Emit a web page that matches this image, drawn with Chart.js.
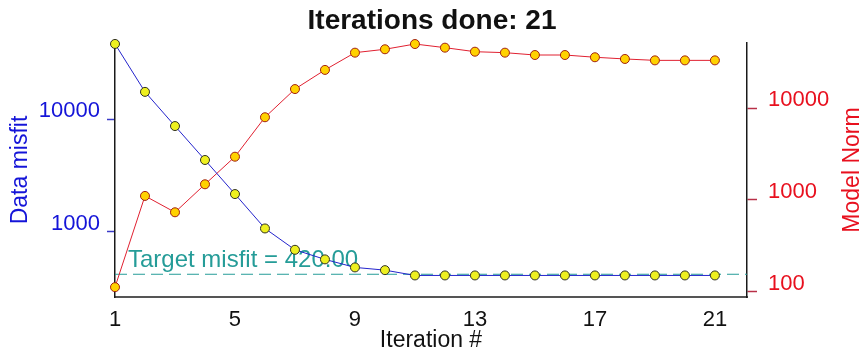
<!DOCTYPE html>
<html>
<head>
<meta charset="utf-8">
<script src="https://cdn.jsdelivr.net/npm/chart.js@4.4.1/dist/chart.umd.min.js"></script>
<style>
  html, body { margin: 0; padding: 0; background: #fff; }
  #wrap { width: 864px; height: 358px; position: relative; }
</style>
</head>
<body>
<div id="wrap"><canvas id="c"></canvas></div>
<script>
// Inversion progress: data misfit and model norm per iteration
const iterations = [1,2,3,4,5,6,7,8,9,10,11,12,13,14,15,16,17,18,19,20,21];
const dataMisfit = [46300,17400,8660,4330,2160,1070,692,569,483,457,410,410,410,410,410,410,410,410,410,410,410];
const modelNorm = [112,1107,734,1483,2965,7980,16200,26200,40400,44000,50200,45800,41400,40400,38100,38100,36000,34500,33300,33300,33300];
const targetMisfit = 420;
const xTicks = [1,5,9,13,17,21];
const misfitTicks = [1000,10000];
const normTicks = [100,1000,10000];

const FONT = '"Liberation Sans", Arial, sans-serif';
const BLUE = '#1414d8';
const RED = '#e8101e';
const TEAL = '#259c98';

const pairs = (ys) => iterations.map((x, i) => ({x, y: ys[i]}));

// Target misfit reference line and its caption
const targetPlugin = {
  id: 'target',
  beforeDatasetsDraw(chart) {
    const {ctx, chartArea} = chart;
    const y = chart.scales.y.getPixelForValue(targetMisfit);
    ctx.save();
    ctx.strokeStyle = TEAL;
    ctx.lineWidth = 1;
    ctx.setLineDash([12, 6]);
    ctx.beginPath();
    ctx.moveTo(chartArea.left, y);
    ctx.lineTo(chartArea.right, y);
    ctx.stroke();
    ctx.setLineDash([]);
    ctx.fillStyle = TEAL;
    ctx.font = '24px ' + FONT;
    ctx.textAlign = 'left';
    ctx.textBaseline = 'alphabetic';
    ctx.fillText('Target misfit = ' + targetMisfit.toFixed(2), chartArea.left + 13, y - 7);
    ctx.restore();
  }
};

// Right axis title, read bottom to top
const rightTitlePlugin = {
  id: 'rightTitle',
  afterDraw(chart) {
    const {ctx, chartArea} = chart;
    ctx.save();
    ctx.translate(853, (chartArea.top + chartArea.bottom) / 2);
    ctx.rotate(-Math.PI / 2);
    ctx.fillStyle = RED;
    ctx.font = '23px ' + FONT;
    ctx.textAlign = 'center';
    ctx.textBaseline = 'middle';
    ctx.fillText('Model Norm', 0, 0);
    ctx.restore();
  }
};

new Chart(document.getElementById('c'), {
  type: 'line',
  data: {
    datasets: [
      {
        label: 'Data misfit',
        data: pairs(dataMisfit),
        yAxisID: 'y',
        borderColor: '#2424cc',
        borderWidth: 1,
        pointRadius: 4.5,
        pointBackgroundColor: '#eef020',
        pointBorderColor: '#303020',
        pointBorderWidth: 1,
        tension: 0,
        clip: false
      },
      {
        label: 'Model Norm',
        data: pairs(modelNorm),
        yAxisID: 'y2',
        borderColor: '#e02030',
        borderWidth: 1,
        pointRadius: 4.5,
        pointBackgroundColor: '#ffd200',
        pointBorderColor: '#a02010',
        pointBorderWidth: 1,
        tension: 0,
        clip: false
      }
    ]
  },
  options: {
    responsive: true,
    maintainAspectRatio: false,
    animation: false,
    events: [],
    layout: { padding: 0 },
    plugins: {
      legend: { display: false },
      tooltip: { enabled: false },
      title: {
        display: true,
        text: 'Iterations done: 21',
        color: '#111',
        font: { family: FONT, size: 28, weight: 'bold', lineHeight: 1.2 },
        padding: { top: 4, bottom: 5.4 }
      }
    },
    scales: {
      x: {
        type: 'linear',
        min: 1,
        max: 22.07,
        grid: { display: false, drawTicks: false },
        border: { display: true, color: '#555', width: 2 },
        afterBuildTicks: (s) => { s.ticks = xTicks.map(v => ({value: v})); },
        afterFit: (s) => { s.height = 61; },
        ticks: {
          color: '#111',
          padding: 10,
          font: { family: FONT, size: 22 },
          callback: (v) => String(v),
          maxRotation: 0
        },
        title: {
          display: true,
          text: 'Iteration #',
          color: '#111',
          font: { family: FONT, size: 23, lineHeight: 1.2 },
          padding: { top: 0, bottom: 4 }
        }
      },
      y: {
        type: 'logarithmic',
        position: 'left',
        min: 264,
        max: 47200,
        grid: { drawOnChartArea: false, drawTicks: true, tickLength: 8, color: '#3a3ac8', tickWidth: 1.5 },
        border: { display: true, color: '#1a1a1a', width: 1.5 },
        afterBuildTicks: (s) => { s.ticks = misfitTicks.map(v => ({value: v})); },
        afterFit: (s) => { s.width = 115; },
        ticks: {
          color: BLUE,
          padding: 7,
          labelOffset: -8,
          font: { family: FONT, size: 22 },
          callback: (v) => String(v)
        },
        title: {
          display: true,
          text: 'Data misfit',
          color: BLUE,
          font: { family: FONT, size: 23, lineHeight: 1.2 },
          padding: { top: 7, bottom: 0 }
        }
      },
      y2: {
        type: 'logarithmic',
        position: 'right',
        min: 87.5,
        max: 51500,
        grid: { drawOnChartArea: false, drawTicks: true, tickLength: 10, color: '#b83048', tickWidth: 1.5 },
        border: { display: true, color: '#1a1a1a', width: 1.5 },
        afterBuildTicks: (s) => { s.ticks = normTicks.map(v => ({value: v})); },
        afterFit: (s) => { s.width = 117; },
        ticks: {
          color: RED,
          padding: 11,
          labelOffset: -8,
          font: { family: FONT, size: 22 },
          callback: (v) => String(v)
        }
      }
    }
  },
  plugins: [targetPlugin, rightTitlePlugin]
});
</script>
</body>
</html>
